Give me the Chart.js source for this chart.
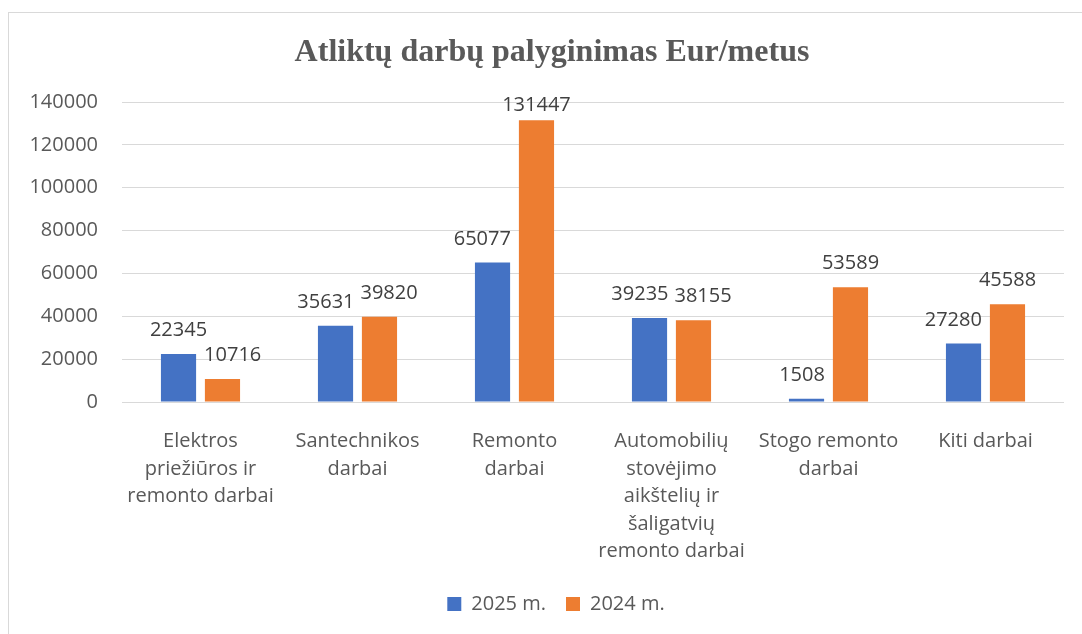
<!DOCTYPE html>
<html><head><meta charset="utf-8">
<script src="https://cdn.jsdelivr.net/npm/chart.js@4"></script>
<style>
html,body{margin:0;padding:0;background:#fff;width:1082px;height:634px;overflow:hidden;}
#frame{position:absolute;left:8px;top:12px;width:1200px;height:700px;border:1px solid #d9d9d9;}
#wrap{position:absolute;left:0;top:0;width:1082px;height:634px;}
</style></head><body>
<div id="frame"></div>
<div id="wrap"><canvas id="c" width="1082" height="634"></canvas></div>
<script>
const chartTitle = "Atliktų darbų palyginimas Eur/metus";
const categories = [
  ["Elektros", "priežiūros ir", "remonto darbai"],
  ["Santechnikos", "darbai"],
  ["Remonto", "darbai"],
  ["Automobilių", "stovėjimo", "aikštelių ir", "šaligatvių", "remonto darbai"],
  ["Stogo remonto", "darbai"],
  ["Kiti darbai"]
];
const seriesNames = ["2025 m.", "2024 m."];
const values2025 = [22345, 35631, 65077, 39235, 1508, 27280];
const values2024 = [10716, 39820, 131447, 38155, 53589, 45588];
const yTicks = [0, 20000, 40000, 60000, 80000, 100000, 120000, 140000];

const FONT = '"Open Sans"';
const textGrey = "#595959";

const titlePlugin = {
  id: "serifTitle",
  afterDraw(chart) {
    const ctx = chart.ctx;
    ctx.save();
    ctx.font = 'bold 32px "Liberation Serif"';
    ctx.fillStyle = textGrey;
    ctx.textAlign = "center";
    ctx.textBaseline = "alphabetic";
    ctx.fillText(chartTitle, 552, 61);
    ctx.restore();
  }
};

// centre the legend on the outer frame rather than on the canvas
const legendShift = {
  id: "legendShift",
  afterLayout(chart) {
    if (chart.legend) { chart.legend.left += 24; chart.legend.right += 24; }
  }
};

const dataLabelPlugin = {
  id: "dataLabels",
  afterDatasetsDraw(chart) {
    const ctx = chart.ctx;
    const gap = 18, capH = 15, desc = 4, sep = 6, clear = 8;
    ctx.save();
    ctx.font = "20px " + FONT;
    ctx.fillStyle = "#404040";
    ctx.textAlign = "center";
    ctx.textBaseline = "alphabetic";
    const metas = chart.data.datasets.map((ds, i) => chart.getDatasetMeta(i));
    const n = chart.data.labels.length;
    for (let j = 0; j < n; j++) {
      const bars = metas.map(m => m.data[j]);
      const items = bars.map((bar, i) => {
        const text = String(chart.data.datasets[i].data[j]);
        let base = bar.y - gap;
        base = Math.max(base, chart.chartArea.top - 6 + capH);
        return { text, x: bar.x, base, w: ctx.measureText(text).width };
      });
      // keep labels of neighbouring bars apart
      for (let a = 0; a < items.length - 1; a++) {
        const L = items[a], R = items[a + 1];
        const vOverlap = !(L.base + desc < R.base - capH || R.base + desc < L.base - capH);
        const need = (L.w + R.w) / 2 + sep;
        const dist = R.x - L.x;
        if (vOverlap && dist < need) {
          const shift = (need - dist) / 2;
          L.x -= shift;
          R.x += shift;
        }
      }
      // keep a label off the neighbouring bar
      items.forEach((it, i) => {
        bars.forEach((other, k) => {
          if (k === i) return;
          const half = other.width / 2;
          const oL = other.x - half, oR = other.x + half;
          const top = Math.min(other.y, other.base);
          if (it.base + desc < top) return;
          if (other.x > bars[i].x) {
            if (it.x + it.w / 2 > oL - clear) it.x = oL - clear - it.w / 2;
          } else {
            if (it.x - it.w / 2 < oR + clear) it.x = oR + clear + it.w / 2;
          }
        });
      });
      items.forEach(it => ctx.fillText(it.text, it.x, it.base));
    }
    ctx.restore();
  }
};

new Chart(document.getElementById("c"), {
  type: "bar",
  data: {
    labels: categories,
    datasets: [
      { label: seriesNames[0], data: values2025, backgroundColor: "#4472C4", borderWidth: 0 },
      { label: seriesNames[1], data: values2024, backgroundColor: "#ED7D31", borderWidth: 0 }
    ]
  },
  options: {
    responsive: false,
    animation: false,
    devicePixelRatio: 1,
    categoryPercentage: 0.56,
    barPercentage: 0.8,
    layout: { padding: { top: 102, left: 0, right: 18, bottom: 10 } },
    plugins: {
      title: { display: false },
      tooltip: { enabled: false },
      legend: {
        position: "bottom",
        labels: {
          font: { family: FONT, size: 20 },
          color: textGrey,
          boxWidth: 14,
          boxHeight: 14,
          padding: 20
        }
      }
    },
    scales: {
      x: {
        grid: { display: false },
        border: { display: false },
        ticks: {
          font: { family: FONT, size: 20, lineHeight: 1.375 },
          color: textGrey,
          maxRotation: 0,
          minRotation: 0,
          autoSkip: false,
          padding: 18
        },
        afterFit(scale) { scale.height = 172; }
      },
      y: {
        min: yTicks[0],
        max: yTicks[yTicks.length - 1],
        afterBuildTicks(scale) { scale.ticks = yTicks.map(v => ({ value: v })); },
        grid: { color: "#d9d9d9", lineWidth: 1, drawTicks: false },
        border: { display: false },
        ticks: {
          font: { family: FONT, size: 20 },
          color: textGrey,
          padding: 24,
          callback: v => String(v)
        },
        afterFit(scale) { scale.width = 122; }
      }
    }
  },
  plugins: [titlePlugin, legendShift, dataLabelPlugin]
});
</script>
</body></html>
